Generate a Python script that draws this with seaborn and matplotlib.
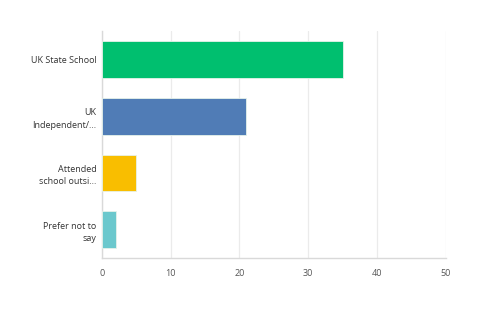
import matplotlib
matplotlib.use("Agg")
import matplotlib.pyplot as plt
import seaborn as sns
import pandas as pd

categories = ["UK State School", "UK\nIndependent/...", "Attended\nschool outsi...", "Prefer not to\nsay"]
values = [35, 21, 5, 2]
colors = ["#00BF6F", "#507CB6", "#F9BE00", "#6BC8CD"]
xticks = [0, 10, 20, 30, 40, 50]

sns.set_theme(style="white")
plt.rcParams['font.family'] = ['Open Sans', 'DejaVu Sans']

df = pd.DataFrame({"cat": categories, "val": values})
fig = plt.figure(figsize=(4.97, 3.11), dpi=100)
ax = fig.add_axes([0.205, 0.170, 0.692, 0.730])
sns.barplot(data=df, y="cat", x="val", hue="cat", palette=colors, legend=False,
            orient="h", width=0.65, saturation=1, edgecolor="#e6f2ea", linewidth=0.6,
            ax=ax, zorder=3)
ax.set_xlim(0, 50)
ax.set_xticks(xticks)
ax.set_xlabel("")
ax.set_ylabel("")
ax.grid(axis="x", color="#ebebeb", linewidth=0.9, zorder=0)
ax.set_axisbelow(True)
for s in ["top", "right"]:
    ax.spines[s].set_visible(False)
for s in ["left", "bottom"]:
    ax.spines[s].set_color("#d9d9d9")
    ax.spines[s].set_linewidth(1.0)
ax.tick_params(axis="x", length=0, labelsize=6.5, colors="#555555", pad=8)
ax.tick_params(axis="y", length=0, labelsize=6.5, colors="#333333", pad=4)
for t in ax.get_yticklabels():
    t.set_horizontalalignment("right")
    t.set_multialignment("right")
    t.set_linespacing(1.5)
fig.savefig("out.png", dpi=100)
